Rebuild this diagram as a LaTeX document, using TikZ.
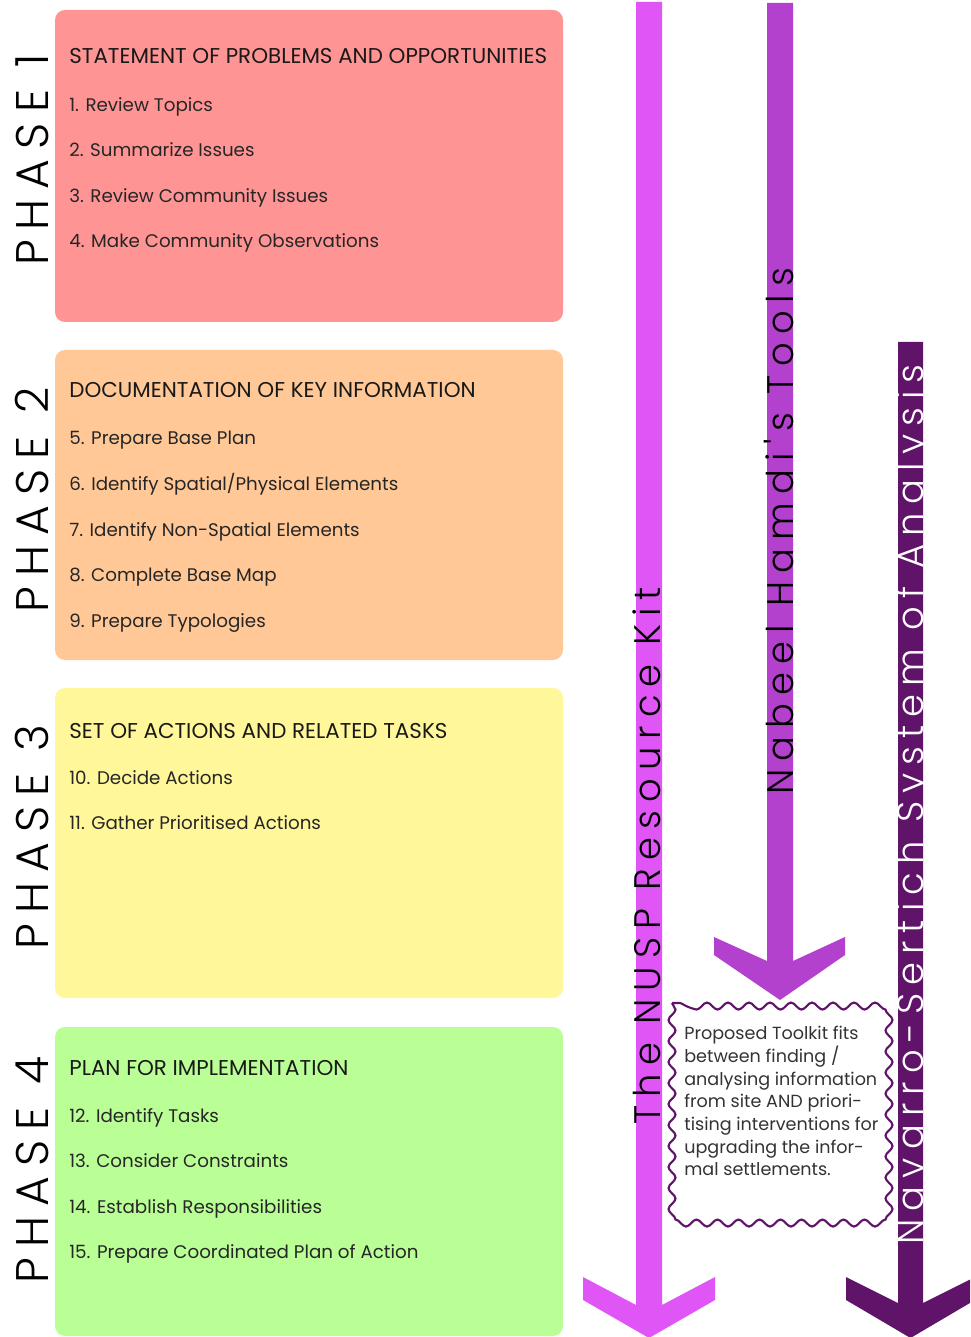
\documentclass[tikz,border=0pt]{standalone}
\usepackage{fontspec}
\setmainfont{Poppins}
\newfontfamily\spacedfont{Poppins}[UprightFont={* Light}, LetterSpace=22]
\usetikzlibrary{decorations.pathmorphing}

\definecolor{phaseone}{RGB}{255,148,148}
\definecolor{phasetwo}{RGB}{255,200,150}
\definecolor{phasethree}{RGB}{255,247,153}
\definecolor{phasefour}{RGB}{186,255,150}
\definecolor{nuspcol}{RGB}{224,85,245}
\definecolor{hamdicol}{RGB}{180,65,205}
\definecolor{navarrocol}{RGB}{95,20,105}

\tikzset{
	phasebox/.style={rounded corners=0.2cm},
	phaselabel/.style={rotate=90, anchor=base, inner sep=0, font=\fontsize{26}{26}\spacedfont},
	boxtitle/.style={anchor=base west, inner sep=0, text=black!90, font=\fontsize{12.2}{14}\selectfont},
	boxitem/.style={anchor=base west, inner sep=0, text=black!85, font=\fontsize{10.4}{13}\selectfont},
	arrowlabel/.style={rotate=90, anchor=base west, inner sep=0, font=\fontsize{21}{21}\spacedfont},
	stampbox/.style={draw=navarrocol, line width=1.2pt, fill=white, decorate,
		decoration={snake, segment length=0.42cm, amplitude=0.07cm}},
}

\begin{document}
\begin{tikzpicture}

	\useasboundingbox (0,0) rectangle (19.4,-26.74);
	\clip (0,0) rectangle (19.4,-26.74);

	%\draw[help lines] (0,0) grid (19.4,-26.74);

	% phase boxes
	\fill [phaseone, phasebox] (1.1,-0.2) rectangle (11.26,-6.44);
	\fill [phasetwo, phasebox] (1.1,-7.0) rectangle (11.26,-13.2);
	\fill [phasethree, phasebox] (1.1,-13.76) rectangle (11.26,-19.96);
	\fill [phasefour, phasebox] (1.1,-20.54) rectangle (11.26,-26.72);

	\node [phaselabel] (ph1) at (0.96,-3.2) {PHASE 1};
	\node [phaselabel] (ph2) at (0.96,-10.0) {PHASE 2};
	\node [phaselabel] (ph3) at (0.96,-16.74) {PHASE 3};
	\node [phaselabel] (ph4) at (0.96,-23.4) {PHASE 4};

	% phase 1
	\node [boxtitle] (t1) at (1.38,-1.28) {STATEMENT OF PROBLEMS AND OPPORTUNITIES};
	\node [boxitem] (i1) at (1.38,-2.24) {1. Review Topics};
	\node [boxitem] (i2) at (1.38,-3.14) {2. Summarize Issues};
	\node [boxitem] (i3) at (1.38,-4.06) {3. Review Community Issues};
	\node [boxitem] (i4) at (1.38,-4.96) {4. Make Community Observations};

	% phase 2
	\node [boxtitle] (t2) at (1.38,-7.94) {DOCUMENTATION OF KEY INFORMATION};
	\node [boxitem] (i5) at (1.38,-8.9) {5. Prepare Base Plan};
	\node [boxitem] (i6) at (1.38,-9.8) {6. Identify Spatial/Physical Elements};
	\node [boxitem] (i7) at (1.38,-10.72) {7. Identify Non-Spatial Elements};
	\node [boxitem] (i8) at (1.38,-11.62) {8. Complete Base Map};
	\node [boxitem] (i9) at (1.38,-12.54) {9. Prepare Typologies};

	% phase 3
	\node [boxtitle] (t3) at (1.38,-14.76) {SET OF ACTIONS AND RELATED TASKS};
	\node [boxitem] (i10) at (1.38,-15.68) {10. Decide Actions};
	\node [boxitem] (i11) at (1.38,-16.58) {11. Gather Prioritised Actions};

	% phase 4
	\node [boxtitle] (t4) at (1.38,-21.5) {PLAN FOR IMPLEMENTATION};
	\node [boxitem] (i12) at (1.38,-22.44) {12. Identify Tasks};
	\node [boxitem] (i13) at (1.38,-23.34) {13. Consider Constraints};
	\node [boxitem] (i14) at (1.38,-24.26) {14. Establish Responsibilities};
	\node [boxitem] (i15) at (1.38,-25.16) {15. Prepare Coordinated Plan of Action};

	% arrows
	\fill [nuspcol] (12.72,-0.04)--(13.24,-0.04)--(13.24,-26.1)--(14.3,-25.54)--(14.3,-26.0)--(12.98,-26.76)--(11.66,-26.0)--(11.66,-25.54)--(12.72,-26.1)--cycle;
	\fill [hamdicol] (15.34,-0.06)--(15.86,-0.06)--(15.86,-19.22)--(16.9,-18.74)--(16.9,-19.1)--(15.6,-20.0)--(14.28,-19.1)--(14.28,-18.74)--(15.34,-19.22)--cycle;
	\fill [navarrocol] (17.96,-6.84)--(18.46,-6.84)--(18.46,-26.06)--(19.5,-25.54)--(19.5,-26.0)--(18.21,-26.76)--(16.92,-26.0)--(16.92,-25.54)--(17.96,-26.06)--cycle;

	\node [arrowlabel] (nusp) at (13.2,-22.5) {The NUSP Resource Kit};
	\node [arrowlabel] (hamdi) at (15.86,-15.9) {Nabeel Hamdi's Tools};
	\node [arrowlabel, text=white] (navarro) at (18.46,-24.9) {Navarro-Sertich System of Analysis};

	% toolkit note
	\draw [stampbox] (13.44,-20.06) rectangle (17.7,-24.2);
	\node [anchor=north west, inner sep=0, align=left, text=black!80,
		font=\fontsize{10}{12.9}\selectfont] (toolkit) at (13.68,-20.52)
		{Proposed Toolkit fits\\between finding /\\analysing information\\from site AND priori-\\tising interventions for\\upgrading the infor-\\mal settlements.};

\end{tikzpicture}
\end{document}
